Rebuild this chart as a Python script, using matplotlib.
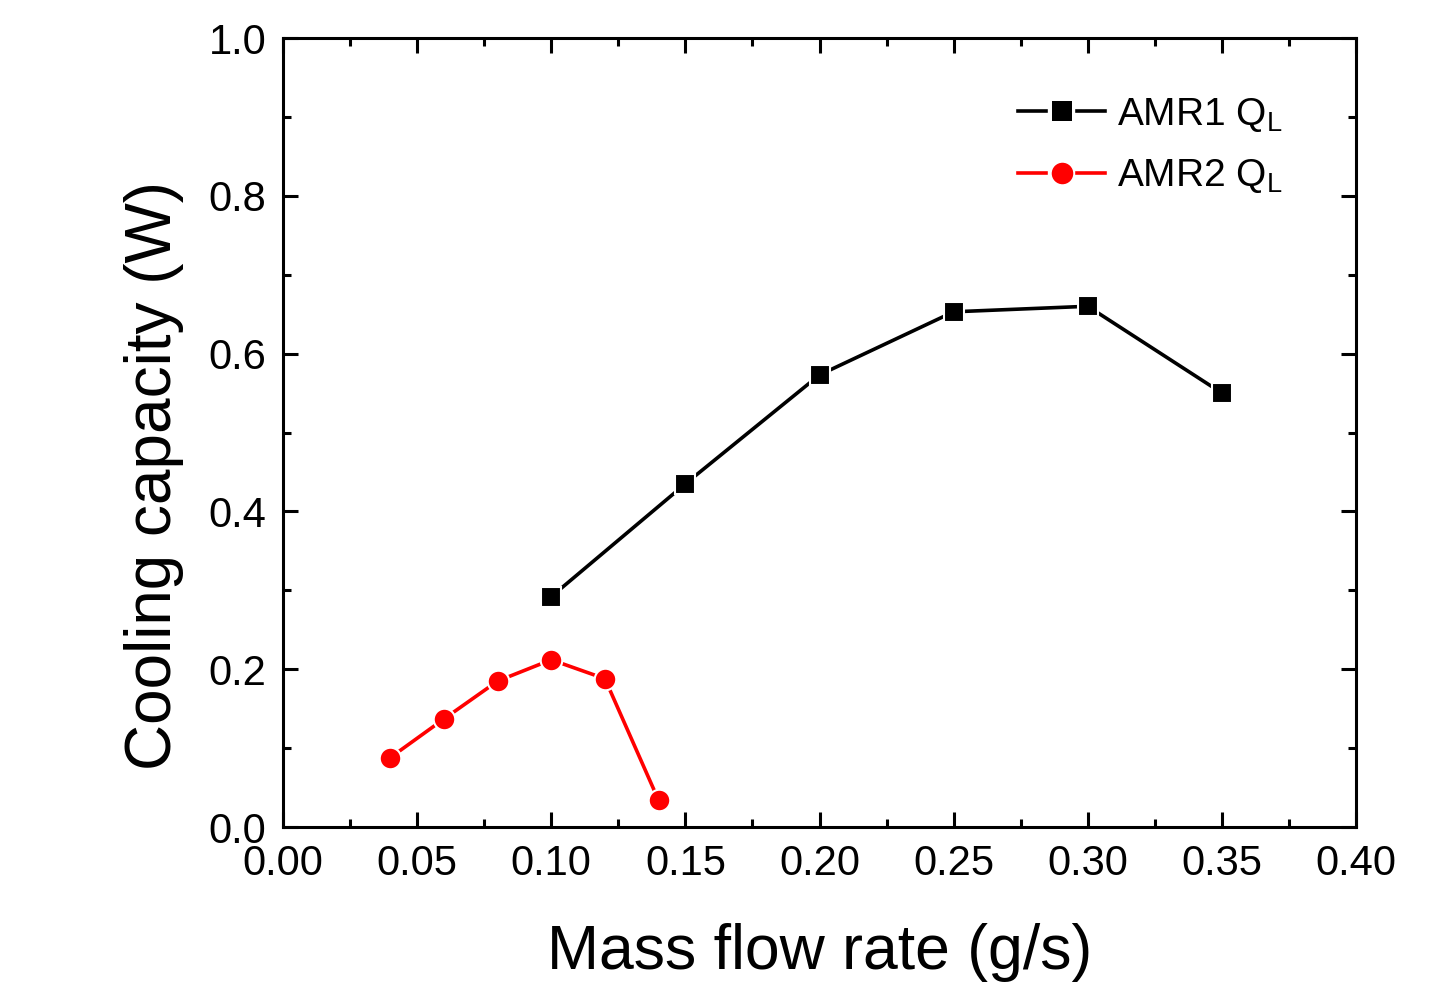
# cooling capacity vs mass flow rate for the two AMR stages

import matplotlib
matplotlib.use('Agg')
import matplotlib.pyplot as plt
from matplotlib.lines import Line2D
from matplotlib.legend_handler import HandlerLine2D
from matplotlib.ticker import MultipleLocator, FormatStrFormatter

plt.rcParams['font.family'] = ['Liberation Sans', 'DejaVu Sans']
plt.rcParams['mathtext.default'] = 'regular'

# data
amr1_flow = [0.10, 0.15, 0.20, 0.25, 0.30, 0.35]
amr1_ql = [0.292, 0.435, 0.573, 0.653, 0.660, 0.550]
amr2_flow = [0.04, 0.06, 0.08, 0.10, 0.12, 0.14]
amr2_ql = [0.088, 0.137, 0.185, 0.212, 0.188, 0.034]


class GapHandler(HandlerLine2D):
    # origin style legend entry: line - marker - line with gaps
    def create_artists(self, legend, orig, xdescent, ydescent, width, height,
                       fontsize, trans):
        y = height / 2 - ydescent
        x0 = -xdescent
        seg = width * 0.32
        arts = []
        for a, b in [(x0, x0 + seg), (x0 + width - seg, x0 + width)]:
            ln = Line2D([a, b], [y, y], color=orig.get_color(),
                        lw=orig.get_linewidth())
            ln.set_transform(trans)
            arts.append(ln)
        mk = Line2D([x0 + width / 2], [y], ls='none', marker=orig.get_marker(),
                    ms=orig.get_markersize(), color=orig.get_color(),
                    mec=orig.get_color(), mew=0)
        mk.set_transform(trans)
        arts.append(mk)
        return arts


fig, ax = plt.subplots(figsize=(14.52, 9.82), dpi=100)
fig.subplots_adjust(left=0.1949, right=0.9339, top=0.9613, bottom=0.1578)

l1, = ax.plot(amr1_flow, amr1_ql, '-s', color='black', lw=2.6, ms=14,
              mec='white', mew=1.5, label=r'AMR1 Q$_{L}$')
l2, = ax.plot(amr2_flow, amr2_ql, '-o', color='red', lw=2.6, ms=15.5,
              mec='white', mew=1.5, label=r'AMR2 Q$_{L}$')

ax.set_xlim(0.0, 0.40)
ax.set_ylim(0.0, 1.0)
ax.xaxis.set_major_locator(MultipleLocator(0.05))
ax.xaxis.set_minor_locator(MultipleLocator(0.025))
ax.yaxis.set_major_locator(MultipleLocator(0.2))
ax.yaxis.set_minor_locator(MultipleLocator(0.1))
ax.xaxis.set_major_formatter(FormatStrFormatter('%.2f'))
ax.yaxis.set_major_formatter(FormatStrFormatter('%.1f'))

ax.tick_params(which='both', direction='in', top=True, right=True, width=2.2)
ax.tick_params(which='major', length=10.5, labelsize=30, pad=12)
ax.tick_params(which='minor', length=5.5)
for s in ax.spines.values():
    s.set_linewidth(2.2)

ax.set_xlabel('Mass flow rate (g/s)', fontsize=45, labelpad=28)
ax.set_ylabel('Cooling capacity (W)', fontsize=46)
ax.yaxis.set_label_coords(-0.092, 0.446)

ax.legend(handles=[l1, l2], handler_map={Line2D: GapHandler()},
          loc='upper left', bbox_to_anchor=(0.667, 0.951), frameon=False,
          borderpad=0, fontsize=28, handlelength=2.24, handletextpad=0.3,
          labelspacing=0.6)

fig.savefig('out.png', dpi=100)
